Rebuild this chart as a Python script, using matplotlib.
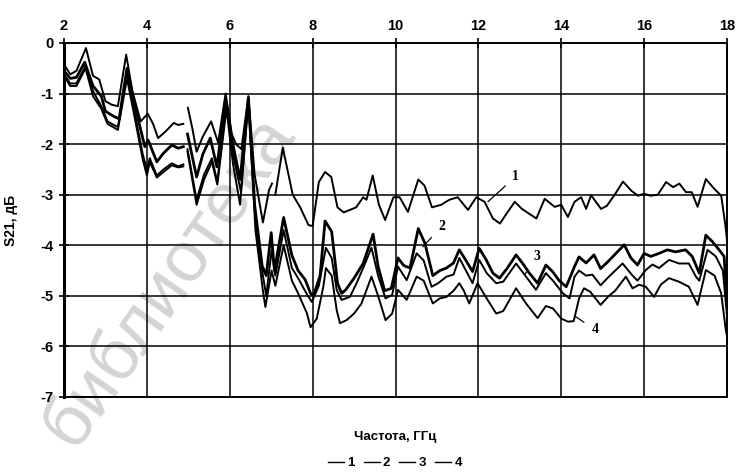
import numpy as np
import matplotlib
matplotlib.use("Agg")
import matplotlib.pyplot as plt
from matplotlib.lines import Line2D

nan = np.nan

# curve 1 (top)
freq_1 = [2.0, 2.15, 2.3, 2.53, 2.7, 2.85, 3.0, 3.15, 3.3, 3.5, 3.65, 3.85, 4.02, 4.15, 4.27,
          4.45, 4.65, 4.75, 4.88, 4.93, 4.99, 5.1, 5.2, 5.35, 5.55, 5.72, 5.9, 6.05, 6.15, 6.28,
          6.45, 6.6, 6.8, 6.95, 7.02, 7.06, 7.1, 7.28, 7.52, 7.7, 7.9, 8.0, 8.15, 8.3, 8.45,
          8.6, 8.75, 8.9, 9.05, 9.22, 9.3, 9.45, 9.6, 9.75, 9.95, 10.1, 10.3, 10.55, 10.7, 10.88,
          11.1, 11.3, 11.5, 11.75, 11.95, 12.15, 12.35, 12.52, 12.7, 12.88, 13.05, 13.4, 13.6, 13.84, 14.0,
          14.16, 14.32, 14.48, 14.6, 14.72, 14.96, 15.1, 15.29, 15.49, 15.69, 15.85, 16.0, 16.15, 16.33, 16.53,
          16.7, 16.85, 17.01, 17.15, 17.29, 17.49, 17.69, 17.86, 17.96, 18.0]
s21_1 = [-0.42, -0.62, -0.55, -0.1, -0.65, -0.72, -1.15, -1.22, -1.25, -0.23, -0.95, -1.55, -1.4, -1.6, -1.88,
         -1.75, -1.58, -1.62, -1.6, nan, -1.28, -1.7, -2.15, -1.85, -1.55, -1.97, -1.0, -1.8, -2.0, -2.1,
         -1.05, -2.6, -3.55, -2.9, -2.78, nan, -3.0, -2.07, -3.0, -3.25, -3.6, -3.62, -2.75, -2.55, -2.65,
         -3.25, -3.35, -3.3, -3.25, -3.05, -3.1, -2.62, -3.2, -3.5, -3.05, -3.05, -3.34, -2.7, -2.82, -3.25,
         -3.2, -3.1, -3.05, -3.3, -3.05, -3.14, -3.47, -3.57, -3.35, -3.14, -3.28, -3.47, -3.08, -3.24, -3.2,
         -3.44, -3.14, -3.05, -3.28, -3.01, -3.28, -3.22, -3.0, -2.74, -2.92, -3.02, -2.98, -3.02, -3.0, -2.75,
         -2.85, -2.78, -2.95, -2.95, -3.24, -2.69, -2.88, -3.02, -3.6, -3.9]

# curve 2
freq_2 = [2.0, 2.15, 2.3, 2.5, 2.7, 2.9, 3.0, 3.2, 3.33, 3.52, 3.7, 3.95, 4.03, 4.24, 4.4,
          4.6, 4.76, 4.88, 4.93, 4.98, 5.2, 5.35, 5.53, 5.69, 5.9, 6.05, 6.25, 6.45, 6.6, 6.78,
          6.88, 7.0, 7.08, 7.3, 7.5, 7.65, 7.82, 7.95, 8.02, 8.18, 8.3, 8.46, 8.6, 8.7, 8.8,
          9.0, 9.22, 9.46, 9.58, 9.74, 9.9, 10.06, 10.2, 10.35, 10.55, 10.71, 10.9, 11.07, 11.23, 11.4,
          11.54, 11.7, 11.86, 12.02, 12.19, 12.35, 12.51, 12.7, 12.91, 13.07, 13.23, 13.43, 13.63, 13.79, 13.95,
          14.12, 14.32, 14.43, 14.6, 14.79, 14.95, 15.12, 15.32, 15.52, 15.68, 15.84, 16.0, 16.16, 16.36, 16.56,
          16.76, 17.0, 17.16, 17.33, 17.49, 17.65, 17.81, 17.93, 18.0]
s21_2 = [-0.55, -0.7, -0.68, -0.38, -0.85, -1.05, -1.35, -1.45, -1.5, -0.5, -1.2, -2.05, -1.92, -2.35, -2.18,
         -2.02, -2.08, -2.05, nan, -1.8, -2.65, -2.2, -1.88, -2.45, -1.1, -1.9, -2.7, -1.08, -3.2, -4.4,
         -4.6, -3.75, -4.5, -3.45, -4.2, -4.5, -4.68, -4.95, -5.0, -4.6, -3.52, -3.73, -4.75, -4.95, -4.88,
         -4.65, -4.36, -3.78, -4.42, -4.9, -4.85, -4.25, -4.4, -4.45, -3.67, -3.96, -4.6, -4.5, -4.45, -4.35,
         -4.09, -4.3, -4.52, -4.06, -4.29, -4.55, -4.65, -4.45, -4.19, -4.36, -4.55, -4.75, -4.39, -4.52, -4.7,
         -4.82, -4.42, -4.23, -4.35, -4.19, -4.46, -4.33, -4.16, -3.99, -4.25, -4.39, -4.16, -4.22, -4.16, -4.09,
         -4.13, -4.09, -4.22, -4.55, -3.8, -3.93, -4.09, -4.22, -5.1]

# curve 3
freq_3 = [2.0, 2.15, 2.3, 2.52, 2.7, 2.9, 3.05, 3.2, 3.3, 3.52, 3.7, 3.9, 4.0, 4.07, 4.24,
          4.4, 4.6, 4.76, 4.88, 4.93, 4.98, 5.2, 5.38, 5.57, 5.7, 5.92, 6.08, 6.27, 6.45, 6.62,
          6.8, 6.88, 7.01, 7.1, 7.3, 7.5, 7.65, 7.85, 7.98, 8.15, 8.32, 8.46, 8.58, 8.7, 8.9,
          9.06, 9.22, 9.42, 9.58, 9.76, 9.92, 10.06, 10.27, 10.51, 10.68, 10.87, 11.03, 11.23, 11.4, 11.54,
          11.7, 11.86, 12.02, 12.2, 12.43, 12.6, 12.91, 13.15, 13.39, 13.63, 13.8, 14.04, 14.2, 14.32, 14.43,
          14.6, 14.75, 14.95, 15.15, 15.48, 15.7, 15.84, 16.04, 16.2, 16.36, 16.6, 16.84, 17.08, 17.25, 17.33,
          17.53, 17.73, 17.9, 18.0]
s21_3 = [-0.62, -0.8, -0.8, -0.45, -0.95, -1.25, -1.55, -1.62, -1.66, -0.62, -1.35, -2.2, -2.5, -2.28, -2.62,
         -2.5, -2.38, -2.44, -2.4, nan, -2.1, -3.1, -2.6, -2.28, -2.75, -1.2, -2.2, -2.95, -1.1, -3.5,
         -4.6, -5.0, -4.1, -4.6, -3.7, -4.45, -4.65, -4.95, -5.12, -4.8, -4.05, -4.25, -4.88, -5.08, -5.02,
         -4.75, -4.45, -4.05, -4.6, -5.05, -4.98, -4.42, -4.69, -4.16, -4.3, -4.82, -4.75, -4.62, -4.58, -4.25,
         -4.5, -4.75, -4.29, -4.55, -4.75, -4.72, -4.36, -4.62, -4.88, -4.55, -4.7, -4.95, -5.05, -4.62, -4.5,
         -4.6, -4.58, -4.79, -4.62, -4.36, -4.58, -4.7, -4.49, -4.38, -4.45, -4.29, -4.36, -4.36, -4.62, -4.7,
         -4.09, -4.22, -4.5, -5.4]

# curve 4 (bottom)
freq_4 = [2.0, 2.15, 2.3, 2.52, 2.7, 2.9, 3.05, 3.2, 3.3, 3.52, 3.7, 3.9, 4.0, 4.07, 4.24,
          4.4, 4.6, 4.76, 4.88, 4.93, 4.98, 5.2, 5.38, 5.57, 5.7, 5.92, 6.08, 6.25, 6.45, 6.62,
          6.8, 6.86, 7.01, 7.1, 7.3, 7.5, 7.65, 7.86, 7.95, 8.1, 8.26, 8.32, 8.46, 8.58, 8.66,
          8.82, 9.0, 9.18, 9.42, 9.58, 9.76, 9.92, 10.06, 10.27, 10.51, 10.68, 10.9, 11.07, 11.23, 11.4,
          11.54, 11.65, 11.78, 11.98, 12.2, 12.43, 12.6, 12.91, 13.15, 13.43, 13.63, 13.8, 14.0, 14.16, 14.3,
          14.43, 14.55, 14.7, 14.95, 15.15, 15.3, 15.56, 15.72, 15.88, 16.04, 16.24, 16.4, 16.6, 16.84, 17.08,
          17.29, 17.49, 17.7, 17.86, 17.97, 18.0]
s21_4 = [-0.65, -0.85, -0.85, -0.5, -1.05, -1.3, -1.6, -1.67, -1.72, -0.7, -1.45, -2.3, -2.62, -2.35, -2.66,
         -2.55, -2.42, -2.46, -2.44, nan, -2.15, -3.2, -2.7, -2.35, -2.8, -1.3, -2.4, -3.2, -1.15, -3.7,
         -4.9, -5.22, -4.5, -4.8, -4.0, -4.7, -4.95, -5.34, -5.62, -5.45, -4.81, -4.45, -4.6, -5.28, -5.54,
         -5.48, -5.35, -5.15, -4.62, -5.0, -5.48, -5.35, -4.88, -5.08, -4.62, -4.7, -5.15, -5.05, -5.02, -4.9,
         -4.75, -4.9, -5.15, -4.75, -5.05, -5.35, -5.3, -4.85, -5.15, -5.44, -5.2, -5.25, -5.45, -5.51, -5.5,
         -5.05, -4.85, -4.92, -5.18, -5.0, -4.9, -4.62, -4.85, -4.78, -4.82, -5.02, -4.78, -4.65, -4.72, -4.82,
         -5.18, -4.49, -4.6, -4.95, -5.67, -5.8]

series = [("1", freq_1, s21_1, 1.4), ("2", freq_2, s21_2, 2.0),
          ("3", freq_3, s21_3, 1.4), ("4", freq_4, s21_4, 1.4)]

# curve labels with leader lines: (label, point on curve, text position)
callouts = [("1", (12.23, -3.14), (12.9, -2.64)),
            ("2", (10.66, -4.03), (11.11, -3.63)),
            ("3", (13.12, -4.58), (13.42, -4.22)),
            ("4", (14.33, -5.4), (14.81, -5.67))]

plt.rcParams["font.family"] = ["Liberation Sans", "DejaVu Sans"]
plt.rcParams["axes.unicode_minus"] = False

fig = plt.figure(figsize=(7.41, 4.72), dpi=100)
ax = fig.add_axes([64 / 741, 1 - 397 / 472, 663 / 741, 354 / 472])
ax.set_facecolor("none")

# faint watermark behind the chart
fig.text(0.1, 0.045, "библиотека", rotation=55, rotation_mode="anchor",
         ha="left", va="baseline", fontsize=52, color="#d4d4d4", zorder=-5)

for name, f, v, lw in series:
    ax.plot(f, v, color="black", lw=lw, label=name)

for lab, xy, xyt in callouts:
    ax.annotate(lab, xy=xy, xytext=xyt, ha="center", va="center",
                fontsize=10, fontweight="bold", family="Liberation Serif",
                arrowprops=dict(arrowstyle="-", color="black", lw=0.9, shrinkA=4, shrinkB=0))

ax.set_xlim(2, 18)
ax.set_ylim(-7, 0)
ax.set_xticks(np.arange(2, 19, 2))
ax.set_yticks(np.arange(-7, 1, 1))
ax.xaxis.tick_top()
ax.tick_params(axis="both", direction="inout", length=7, width=1.2, labelsize=10.5, pad=4)
for lab in ax.get_xticklabels() + ax.get_yticklabels():
    lab.set_fontweight("bold")
ax.grid(True, color="black", lw=1.1)
for side, sp in ax.spines.items():
    sp.set_color("black")
    sp.set_linewidth(2.2 if side == "left" else 1.4)

ax.set_ylabel("S21, дБ", fontsize=10, fontweight="bold")
ax.yaxis.set_label_coords(-0.07, 0.5)
fig.text(395 / 741, 1 - 437 / 472, "Частота, ГГц", ha="center", va="center",
         fontsize=9.5, fontweight="bold")

handles = [Line2D([], [], color="black", lw=1.0) for _ in series]
fig.legend(handles, [s[0] for s in series], ncol=4, loc="center",
           bbox_to_anchor=(395 / 741, 1 - 463 / 472), frameon=False,
           handlelength=1.2, handletextpad=0.25, columnspacing=0.7,
           prop=dict(size=9.5, weight="bold"))

fig.savefig("out.png", dpi=100)
